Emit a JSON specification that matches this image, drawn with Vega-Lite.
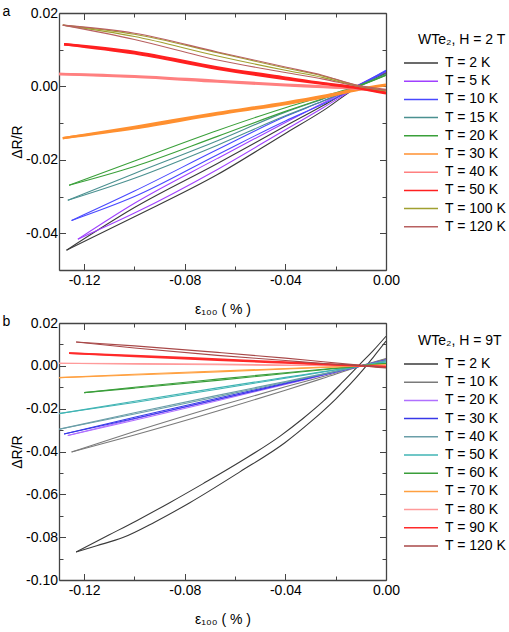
{
  "$schema": "https://vega.github.io/schema/vega-lite/v6.json",
  "background": "white",
  "padding": {"left": 2, "top": 4, "right": 0, "bottom": 0},
  "config": {
    "font": "Liberation Sans",
    "view": {"stroke": null},
    "title": {"font": "Liberation Sans", "fontSize": 14, "fontWeight": "normal", "color": "black"},
    "axis": {
      "grid": false,
      "labelFont": "Liberation Sans",
      "labelFontSize": 14,
      "labelColor": "black",
      "labelFlush": false,
      "titleFont": "Liberation Sans",
      "titleFontSize": 14,
      "titleFontWeight": "normal",
      "titleColor": "black",
      "domainColor": "#444444",
      "domainWidth": 1.3,
      "tickColor": "#444444",
      "tickWidth": 1
    },
    "legend": {
      "orient": "none",
      "symbolType": "stroke",
      "symbolSize": 1156,
      "symbolStrokeWidth": 1.5,
      "labelFont": "Liberation Sans",
      "labelFontSize": 14,
      "labelColor": "black",
      "labelOffset": 6,
      "titleFont": "Liberation Sans",
      "titleFontSize": 14,
      "titleFontWeight": "normal",
      "titleColor": "black",
      "clipHeight": 14,
      "rowPadding": 4.2,
      "titlePadding": 9,
      "padding": 0
    },
    "line": {"interpolate": "monotone"}
  },
  "datasets": {
    "h2": [
      {"T": "2 K", "b": 0, "x": -0.127, "y": -0.0446}, {"T": "2 K", "b": 0, "x": -0.1, "y": -0.0355}, {"T": "2 K", "b": 0, "x": -0.067, "y": -0.024}, {"T": "2 K", "b": 0, "x": -0.04, "y": -0.0128}, {"T": "2 K", "b": 0, "x": -0.025, "y": -0.0066}, {"T": "2 K", "b": 0, "x": -0.011, "y": 0.0}, {"T": "2 K", "b": 0, "x": 0, "y": 0.0035},
      {"T": "2 K", "b": 1, "x": -0.127, "y": -0.0446}, {"T": "2 K", "b": 1, "x": -0.1, "y": -0.033}, {"T": "2 K", "b": 1, "x": -0.067, "y": -0.021}, {"T": "2 K", "b": 1, "x": -0.04, "y": -0.0108}, {"T": "2 K", "b": 1, "x": -0.025, "y": -0.0052}, {"T": "2 K", "b": 1, "x": -0.011, "y": 0.0003}, {"T": "2 K", "b": 1, "x": 0, "y": 0.0038},
      {"T": "5 K", "b": 0, "x": -0.1225, "y": -0.0416}, {"T": "5 K", "b": 0, "x": -0.1, "y": -0.0345}, {"T": "5 K", "b": 0, "x": -0.067, "y": -0.0226}, {"T": "5 K", "b": 0, "x": -0.04, "y": -0.0118}, {"T": "5 K", "b": 0, "x": -0.025, "y": -0.0058}, {"T": "5 K", "b": 0, "x": -0.011, "y": 0.0}, {"T": "5 K", "b": 0, "x": 0, "y": 0.004},
      {"T": "5 K", "b": 1, "x": -0.1225, "y": -0.0416}, {"T": "5 K", "b": 1, "x": -0.1, "y": -0.0318}, {"T": "5 K", "b": 1, "x": -0.067, "y": -0.0196}, {"T": "5 K", "b": 1, "x": -0.04, "y": -0.0098}, {"T": "5 K", "b": 1, "x": -0.025, "y": -0.0045}, {"T": "5 K", "b": 1, "x": -0.011, "y": 0.0004}, {"T": "5 K", "b": 1, "x": 0, "y": 0.0042},
      {"T": "10 K", "b": 0, "x": -0.125, "y": -0.0365}, {"T": "10 K", "b": 0, "x": -0.1, "y": -0.03}, {"T": "10 K", "b": 0, "x": -0.067, "y": -0.0186}, {"T": "10 K", "b": 0, "x": -0.04, "y": -0.0094}, {"T": "10 K", "b": 0, "x": -0.025, "y": -0.0048}, {"T": "10 K", "b": 0, "x": -0.011, "y": 0.0}, {"T": "10 K", "b": 0, "x": 0, "y": 0.0042},
      {"T": "10 K", "b": 1, "x": -0.125, "y": -0.0365}, {"T": "10 K", "b": 1, "x": -0.1, "y": -0.0285}, {"T": "10 K", "b": 1, "x": -0.067, "y": -0.0172}, {"T": "10 K", "b": 1, "x": -0.04, "y": -0.0082}, {"T": "10 K", "b": 1, "x": -0.025, "y": -0.004}, {"T": "10 K", "b": 1, "x": -0.011, "y": 0.0003}, {"T": "10 K", "b": 1, "x": 0, "y": 0.0044},
      {"T": "15 K", "b": 0, "x": -0.1265, "y": -0.031}, {"T": "15 K", "b": 0, "x": -0.1, "y": -0.025}, {"T": "15 K", "b": 0, "x": -0.067, "y": -0.016}, {"T": "15 K", "b": 0, "x": -0.04, "y": -0.008}, {"T": "15 K", "b": 0, "x": -0.025, "y": -0.004}, {"T": "15 K", "b": 0, "x": -0.011, "y": 0.0}, {"T": "15 K", "b": 0, "x": 0, "y": 0.0032},
      {"T": "15 K", "b": 1, "x": -0.1265, "y": -0.031}, {"T": "15 K", "b": 1, "x": -0.1, "y": -0.0237}, {"T": "15 K", "b": 1, "x": -0.067, "y": -0.0148}, {"T": "15 K", "b": 1, "x": -0.04, "y": -0.007}, {"T": "15 K", "b": 1, "x": -0.025, "y": -0.0034}, {"T": "15 K", "b": 1, "x": -0.011, "y": 0.0002}, {"T": "15 K", "b": 1, "x": 0, "y": 0.0034},
      {"T": "20 K", "b": 0, "x": -0.126, "y": -0.0269}, {"T": "20 K", "b": 0, "x": -0.1, "y": -0.0218}, {"T": "20 K", "b": 0, "x": -0.067, "y": -0.0136}, {"T": "20 K", "b": 0, "x": -0.04, "y": -0.0068}, {"T": "20 K", "b": 0, "x": -0.025, "y": -0.0033}, {"T": "20 K", "b": 0, "x": -0.011, "y": 0.0}, {"T": "20 K", "b": 0, "x": 0, "y": 0.003},
      {"T": "20 K", "b": 1, "x": -0.126, "y": -0.0269}, {"T": "20 K", "b": 1, "x": -0.1, "y": -0.0203}, {"T": "20 K", "b": 1, "x": -0.067, "y": -0.012}, {"T": "20 K", "b": 1, "x": -0.04, "y": -0.0058}, {"T": "20 K", "b": 1, "x": -0.025, "y": -0.0027}, {"T": "20 K", "b": 1, "x": -0.011, "y": 0.0002}, {"T": "20 K", "b": 1, "x": 0, "y": 0.0031},
      {"T": "30 K", "b": 0, "x": -0.1285, "y": -0.0141}, {"T": "30 K", "b": 0, "x": -0.1, "y": -0.0114}, {"T": "30 K", "b": 0, "x": -0.067, "y": -0.0076}, {"T": "30 K", "b": 0, "x": -0.04, "y": -0.0048}, {"T": "30 K", "b": 0, "x": -0.025, "y": -0.003}, {"T": "30 K", "b": 0, "x": -0.011, "y": -0.0009}, {"T": "30 K", "b": 0, "x": 0, "y": 0.0003},
      {"T": "30 K", "b": 1, "x": -0.1285, "y": -0.0141}, {"T": "30 K", "b": 1, "x": -0.1, "y": -0.011}, {"T": "30 K", "b": 1, "x": -0.067, "y": -0.0072}, {"T": "30 K", "b": 1, "x": -0.04, "y": -0.0044}, {"T": "30 K", "b": 1, "x": -0.025, "y": -0.0026}, {"T": "30 K", "b": 1, "x": -0.011, "y": -0.0007}, {"T": "30 K", "b": 1, "x": 0, "y": 0.0005},
      {"T": "40 K", "b": 0, "x": -0.13, "y": 0.0034}, {"T": "40 K", "b": 0, "x": -0.1, "y": 0.0026}, {"T": "40 K", "b": 0, "x": -0.067, "y": 0.0013}, {"T": "40 K", "b": 0, "x": -0.04, "y": 0.0003}, {"T": "40 K", "b": 0, "x": -0.025, "y": -0.0002}, {"T": "40 K", "b": 0, "x": -0.011, "y": -0.0007}, {"T": "40 K", "b": 0, "x": 0, "y": -0.0014},
      {"T": "40 K", "b": 1, "x": -0.13, "y": 0.0034}, {"T": "40 K", "b": 1, "x": -0.1, "y": 0.0028}, {"T": "40 K", "b": 1, "x": -0.067, "y": 0.0015}, {"T": "40 K", "b": 1, "x": -0.04, "y": 0.0005}, {"T": "40 K", "b": 1, "x": -0.025, "y": 0.0}, {"T": "40 K", "b": 1, "x": -0.011, "y": -0.0005}, {"T": "40 K", "b": 1, "x": 0, "y": -0.0012},
      {"T": "50 K", "b": 0, "x": -0.128, "y": 0.0115}, {"T": "50 K", "b": 0, "x": -0.1, "y": 0.009}, {"T": "50 K", "b": 0, "x": -0.067, "y": 0.0048}, {"T": "50 K", "b": 0, "x": -0.04, "y": 0.002}, {"T": "50 K", "b": 0, "x": -0.025, "y": 0.0007}, {"T": "50 K", "b": 0, "x": -0.011, "y": -0.0005}, {"T": "50 K", "b": 0, "x": 0, "y": -0.0019},
      {"T": "50 K", "b": 1, "x": -0.128, "y": 0.0115}, {"T": "50 K", "b": 1, "x": -0.1, "y": 0.0094}, {"T": "50 K", "b": 1, "x": -0.067, "y": 0.0052}, {"T": "50 K", "b": 1, "x": -0.04, "y": 0.0024}, {"T": "50 K", "b": 1, "x": -0.025, "y": 0.0009}, {"T": "50 K", "b": 1, "x": -0.011, "y": -0.0003}, {"T": "50 K", "b": 1, "x": 0, "y": -0.0017},
      {"T": "100 K", "b": 0, "x": -0.1285, "y": 0.0167}, {"T": "100 K", "b": 0, "x": -0.1, "y": 0.0136}, {"T": "100 K", "b": 0, "x": -0.067, "y": 0.0083}, {"T": "100 K", "b": 0, "x": -0.04, "y": 0.0044}, {"T": "100 K", "b": 0, "x": -0.025, "y": 0.0024}, {"T": "100 K", "b": 0, "x": -0.011, "y": 0.0}, {"T": "100 K", "b": 0, "x": 0, "y": -0.0012},
      {"T": "100 K", "b": 1, "x": -0.1285, "y": 0.0167}, {"T": "100 K", "b": 1, "x": -0.1, "y": 0.0142}, {"T": "100 K", "b": 1, "x": -0.067, "y": 0.0092}, {"T": "100 K", "b": 1, "x": -0.04, "y": 0.005}, {"T": "100 K", "b": 1, "x": -0.025, "y": 0.0028}, {"T": "100 K", "b": 1, "x": -0.011, "y": 0.0002}, {"T": "100 K", "b": 1, "x": 0, "y": -0.001},
      {"T": "120 K", "b": 0, "x": -0.1285, "y": 0.0167}, {"T": "120 K", "b": 0, "x": -0.1, "y": 0.0128}, {"T": "120 K", "b": 0, "x": -0.067, "y": 0.0072}, {"T": "120 K", "b": 0, "x": -0.04, "y": 0.0038}, {"T": "120 K", "b": 0, "x": -0.025, "y": 0.002}, {"T": "120 K", "b": 0, "x": -0.011, "y": 0.0}, {"T": "120 K", "b": 0, "x": 0, "y": -0.001},
      {"T": "120 K", "b": 1, "x": -0.1285, "y": 0.0167}, {"T": "120 K", "b": 1, "x": -0.1, "y": 0.0145}, {"T": "120 K", "b": 1, "x": -0.067, "y": 0.0094}, {"T": "120 K", "b": 1, "x": -0.04, "y": 0.0053}, {"T": "120 K", "b": 1, "x": -0.025, "y": 0.003}, {"T": "120 K", "b": 1, "x": -0.011, "y": 0.0003}, {"T": "120 K", "b": 1, "x": 0, "y": -0.0008}
    ],
    "h9": [
      {"T": "2 K", "b": 0, "x": -0.1232, "y": -0.0869}, {"T": "2 K", "b": 0, "x": -0.115, "y": -0.084}, {"T": "2 K", "b": 0, "x": -0.1046, "y": -0.0802}, {"T": "2 K", "b": 0, "x": -0.092, "y": -0.073}, {"T": "2 K", "b": 0, "x": -0.078, "y": -0.0639}, {"T": "2 K", "b": 0, "x": -0.0581, "y": -0.0495}, {"T": "2 K", "b": 0, "x": -0.0402, "y": -0.0359}, {"T": "2 K", "b": 0, "x": -0.03, "y": -0.0262}, {"T": "2 K", "b": 0, "x": -0.02, "y": -0.0155}, {"T": "2 K", "b": 0, "x": -0.0096, "y": -0.0025}, {"T": "2 K", "b": 0, "x": -0.005, "y": 0.0041}, {"T": "2 K", "b": 0, "x": 0, "y": 0.0115},
      {"T": "2 K", "b": 1, "x": -0.1232, "y": -0.0869}, {"T": "2 K", "b": 1, "x": -0.11, "y": -0.0789}, {"T": "2 K", "b": 1, "x": -0.0993, "y": -0.0724}, {"T": "2 K", "b": 1, "x": -0.086, "y": -0.0639}, {"T": "2 K", "b": 1, "x": -0.0727, "y": -0.055}, {"T": "2 K", "b": 1, "x": -0.057, "y": -0.0441}, {"T": "2 K", "b": 1, "x": -0.0421, "y": -0.0328}, {"T": "2 K", "b": 1, "x": -0.033, "y": -0.0246}, {"T": "2 K", "b": 1, "x": -0.0248, "y": -0.0164}, {"T": "2 K", "b": 1, "x": -0.017, "y": -0.0073}, {"T": "2 K", "b": 1, "x": -0.0104, "y": 0.0007}, {"T": "2 K", "b": 1, "x": -0.005, "y": 0.0072}, {"T": "2 K", "b": 1, "x": 0, "y": 0.0138},
      {"T": "10 K", "b": 0, "x": -0.125, "y": -0.0402}, {"T": "10 K", "b": 0, "x": -0.1, "y": -0.0323}, {"T": "10 K", "b": 0, "x": -0.067, "y": -0.0211}, {"T": "10 K", "b": 0, "x": -0.04, "y": -0.0114}, {"T": "10 K", "b": 0, "x": -0.025, "y": -0.0058}, {"T": "10 K", "b": 0, "x": -0.0096, "y": 0.0}, {"T": "10 K", "b": 0, "x": 0, "y": 0.0032},
      {"T": "10 K", "b": 1, "x": -0.125, "y": -0.0402}, {"T": "10 K", "b": 1, "x": -0.1, "y": -0.0307}, {"T": "10 K", "b": 1, "x": -0.067, "y": -0.0189}, {"T": "10 K", "b": 1, "x": -0.04, "y": -0.0098}, {"T": "10 K", "b": 1, "x": -0.025, "y": -0.005}, {"T": "10 K", "b": 1, "x": -0.0096, "y": 0.0002}, {"T": "10 K", "b": 1, "x": 0, "y": 0.0034},
      {"T": "20 K", "b": 0, "x": -0.1265, "y": -0.0325}, {"T": "20 K", "b": 0, "x": -0.1, "y": -0.0254}, {"T": "20 K", "b": 0, "x": -0.067, "y": -0.0163}, {"T": "20 K", "b": 0, "x": -0.04, "y": -0.0087}, {"T": "20 K", "b": 0, "x": -0.025, "y": -0.0044}, {"T": "20 K", "b": 0, "x": -0.0096, "y": 0.0}, {"T": "20 K", "b": 0, "x": 0, "y": 0.0026},
      {"T": "20 K", "b": 1, "x": -0.1265, "y": -0.0325}, {"T": "20 K", "b": 1, "x": -0.1, "y": -0.0248}, {"T": "20 K", "b": 1, "x": -0.067, "y": -0.0157}, {"T": "20 K", "b": 1, "x": -0.04, "y": -0.0083}, {"T": "20 K", "b": 1, "x": -0.025, "y": -0.0042}, {"T": "20 K", "b": 1, "x": -0.0096, "y": 0.0001}, {"T": "20 K", "b": 1, "x": 0, "y": 0.0027},
      {"T": "30 K", "b": 0, "x": -0.128, "y": -0.0318}, {"T": "30 K", "b": 0, "x": -0.1, "y": -0.0246}, {"T": "30 K", "b": 0, "x": -0.067, "y": -0.0157}, {"T": "30 K", "b": 0, "x": -0.04, "y": -0.0084}, {"T": "30 K", "b": 0, "x": -0.025, "y": -0.0042}, {"T": "30 K", "b": 0, "x": -0.0096, "y": 0.0}, {"T": "30 K", "b": 0, "x": 0, "y": 0.0026},
      {"T": "30 K", "b": 1, "x": -0.128, "y": -0.0318}, {"T": "30 K", "b": 1, "x": -0.1, "y": -0.024}, {"T": "30 K", "b": 1, "x": -0.067, "y": -0.0151}, {"T": "30 K", "b": 1, "x": -0.04, "y": -0.008}, {"T": "30 K", "b": 1, "x": -0.025, "y": -0.004}, {"T": "30 K", "b": 1, "x": -0.0096, "y": 0.0001}, {"T": "30 K", "b": 1, "x": 0, "y": 0.0027},
      {"T": "40 K", "b": 0, "x": -0.13, "y": -0.0296}, {"T": "40 K", "b": 0, "x": -0.1, "y": -0.0225}, {"T": "40 K", "b": 0, "x": -0.067, "y": -0.0144}, {"T": "40 K", "b": 0, "x": -0.04, "y": -0.0077}, {"T": "40 K", "b": 0, "x": -0.025, "y": -0.0039}, {"T": "40 K", "b": 0, "x": -0.0096, "y": 0.0}, {"T": "40 K", "b": 0, "x": 0, "y": 0.0024},
      {"T": "40 K", "b": 1, "x": -0.13, "y": -0.0296}, {"T": "40 K", "b": 1, "x": -0.1, "y": -0.0219}, {"T": "40 K", "b": 1, "x": -0.067, "y": -0.0138}, {"T": "40 K", "b": 1, "x": -0.04, "y": -0.0073}, {"T": "40 K", "b": 1, "x": -0.025, "y": -0.0037}, {"T": "40 K", "b": 1, "x": -0.0096, "y": 0.0001}, {"T": "40 K", "b": 1, "x": 0, "y": 0.0025},
      {"T": "50 K", "b": 0, "x": -0.13, "y": -0.0223}, {"T": "50 K", "b": 0, "x": -0.1, "y": -0.0171}, {"T": "50 K", "b": 0, "x": -0.067, "y": -0.0109}, {"T": "50 K", "b": 0, "x": -0.04, "y": -0.0058}, {"T": "50 K", "b": 0, "x": -0.025, "y": -0.0029}, {"T": "50 K", "b": 0, "x": -0.0096, "y": 0.0}, {"T": "50 K", "b": 0, "x": 0, "y": 0.0018},
      {"T": "50 K", "b": 1, "x": -0.13, "y": -0.0223}, {"T": "50 K", "b": 1, "x": -0.1, "y": -0.0165}, {"T": "50 K", "b": 1, "x": -0.067, "y": -0.0103}, {"T": "50 K", "b": 1, "x": -0.04, "y": -0.0054}, {"T": "50 K", "b": 1, "x": -0.025, "y": -0.0027}, {"T": "50 K", "b": 1, "x": -0.0096, "y": 0.0001}, {"T": "50 K", "b": 1, "x": 0, "y": 0.0019},
      {"T": "60 K", "b": 0, "x": -0.12, "y": -0.0125}, {"T": "60 K", "b": 0, "x": -0.1, "y": -0.0104}, {"T": "60 K", "b": 0, "x": -0.067, "y": -0.0068}, {"T": "60 K", "b": 0, "x": -0.04, "y": -0.0036}, {"T": "60 K", "b": 0, "x": -0.025, "y": -0.0018}, {"T": "60 K", "b": 0, "x": -0.0096, "y": 0.0}, {"T": "60 K", "b": 0, "x": 0, "y": 0.0011},
      {"T": "60 K", "b": 1, "x": -0.12, "y": -0.0125}, {"T": "60 K", "b": 1, "x": -0.1, "y": -0.01}, {"T": "60 K", "b": 1, "x": -0.067, "y": -0.0062}, {"T": "60 K", "b": 1, "x": -0.04, "y": -0.0032}, {"T": "60 K", "b": 1, "x": -0.025, "y": -0.0016}, {"T": "60 K", "b": 1, "x": -0.0096, "y": 0.0001}, {"T": "60 K", "b": 1, "x": 0, "y": 0.0012},
      {"T": "70 K", "b": 0, "x": -0.13, "y": -0.0055}, {"T": "70 K", "b": 0, "x": -0.1, "y": -0.0043}, {"T": "70 K", "b": 0, "x": -0.067, "y": -0.0028}, {"T": "70 K", "b": 0, "x": -0.04, "y": -0.0015}, {"T": "70 K", "b": 0, "x": -0.025, "y": -0.0008}, {"T": "70 K", "b": 0, "x": -0.0096, "y": 0.0}, {"T": "70 K", "b": 0, "x": 0, "y": 0.0004},
      {"T": "70 K", "b": 1, "x": -0.13, "y": -0.0055}, {"T": "70 K", "b": 1, "x": -0.1, "y": -0.0039}, {"T": "70 K", "b": 1, "x": -0.067, "y": -0.0024}, {"T": "70 K", "b": 1, "x": -0.04, "y": -0.0013}, {"T": "70 K", "b": 1, "x": -0.025, "y": -0.0006}, {"T": "70 K", "b": 1, "x": -0.0096, "y": 0.0001}, {"T": "70 K", "b": 1, "x": 0, "y": 0.0005},
      {"T": "80 K", "b": 0, "x": -0.13, "y": 0.0012}, {"T": "80 K", "b": 0, "x": -0.1, "y": 0.0008}, {"T": "80 K", "b": 0, "x": -0.067, "y": 0.0005}, {"T": "80 K", "b": 0, "x": -0.04, "y": 0.0002}, {"T": "80 K", "b": 0, "x": -0.025, "y": 0.0001}, {"T": "80 K", "b": 0, "x": -0.0096, "y": 0.0}, {"T": "80 K", "b": 0, "x": 0, "y": -0.0001},
      {"T": "80 K", "b": 1, "x": -0.13, "y": 0.0012}, {"T": "80 K", "b": 1, "x": -0.1, "y": 0.0011}, {"T": "80 K", "b": 1, "x": -0.067, "y": 0.0008}, {"T": "80 K", "b": 1, "x": -0.04, "y": 0.0004}, {"T": "80 K", "b": 1, "x": -0.025, "y": 0.0002}, {"T": "80 K", "b": 1, "x": -0.0096, "y": 0.0001}, {"T": "80 K", "b": 1, "x": 0, "y": 0.0},
      {"T": "90 K", "b": 0, "x": -0.126, "y": 0.0059}, {"T": "90 K", "b": 0, "x": -0.1, "y": 0.0044}, {"T": "90 K", "b": 0, "x": -0.067, "y": 0.0027}, {"T": "90 K", "b": 0, "x": -0.04, "y": 0.0014}, {"T": "90 K", "b": 0, "x": -0.025, "y": 0.0007}, {"T": "90 K", "b": 0, "x": -0.0096, "y": 0.0}, {"T": "90 K", "b": 0, "x": 0, "y": -0.0005},
      {"T": "90 K", "b": 1, "x": -0.126, "y": 0.0059}, {"T": "90 K", "b": 1, "x": -0.1, "y": 0.0048}, {"T": "90 K", "b": 1, "x": -0.067, "y": 0.0031}, {"T": "90 K", "b": 1, "x": -0.04, "y": 0.0017}, {"T": "90 K", "b": 1, "x": -0.025, "y": 0.0009}, {"T": "90 K", "b": 1, "x": -0.0096, "y": 0.0001}, {"T": "90 K", "b": 1, "x": 0, "y": -0.0004},
      {"T": "120 K", "b": 0, "x": -0.1232, "y": 0.0111}, {"T": "120 K", "b": 0, "x": -0.1, "y": 0.0083}, {"T": "120 K", "b": 0, "x": -0.067, "y": 0.0049}, {"T": "120 K", "b": 0, "x": -0.04, "y": 0.0025}, {"T": "120 K", "b": 0, "x": -0.025, "y": 0.0011}, {"T": "120 K", "b": 0, "x": -0.0096, "y": 0.0}, {"T": "120 K", "b": 0, "x": 0, "y": -0.001},
      {"T": "120 K", "b": 1, "x": -0.1232, "y": 0.0111}, {"T": "120 K", "b": 1, "x": -0.1, "y": 0.0093}, {"T": "120 K", "b": 1, "x": -0.067, "y": 0.0063}, {"T": "120 K", "b": 1, "x": -0.04, "y": 0.0036}, {"T": "120 K", "b": 1, "x": -0.025, "y": 0.0019}, {"T": "120 K", "b": 1, "x": -0.0096, "y": 0.0002}, {"T": "120 K", "b": 1, "x": 0, "y": -0.0008}
    ]
  },
  "resolve": {
    "scale": {"x": "independent", "y": "independent", "color": "independent"},
    "legend": {"color": "independent"}
  },
  "spacing": -3,
  "vconcat": [
    {
      "title": {"text": "a", "anchor": "start", "frame": "bounds", "offset": -12.5, "dx": -8},
      "width": 327,
      "height": 257,
      "data": {"name": "h2"},
      "resolve": {"axis": {"x": "independent", "y": "independent"}},
      "layer": [
        {
          "mark": {"type": "line", "clip": true},
          "encoding": {
            "x": {
              "field": "x", "type": "quantitative",
              "scale": {"domain": [-0.13, 0], "nice": false, "zero": false},
              "axis": {
                "orient": "bottom",
                "values": [-0.12, -0.1, -0.08, -0.06, -0.04, -0.02, 0],
                "labelExpr": "abs(round(datum.value*100)) % 4 == 0 ? replace(format(datum.value, '.2f'), '\u2212', '-') : ''",
                "tickSize": {"condition": {"test": "abs(round(datum.value*100)) % 4 == 0", "value": -6.5}, "value": -4},
                "labelPadding": 10,
                "title": "ε₁₀₀ ( % )",
                "titlePadding": 15
              }
            },
            "y": {
              "field": "y", "type": "quantitative",
              "scale": {"domain": [-0.05, 0.02], "nice": false, "zero": false},
              "axis": {
                "orient": "left",
                "values": [0.02, 0.01, 0, -0.01, -0.02, -0.03, -0.04, -0.05],
                "labelExpr": "round(datum.value*100) % 2 == 0 ? replace(format(datum.value, '.2f'), '\u2212', '-') : ''",
                "tickSize": {"condition": {"test": "round(datum.value*100) % 2 == 0", "value": -6.5}, "value": -4},
                "labelPadding": 8,
                "title": "ΔR/R",
                "titlePadding": 1
              }
            },
            "color": {
              "field": "T", "type": "nominal",
              "scale": {
                "domain": ["2 K", "5 K", "10 K", "15 K", "20 K", "30 K", "40 K", "50 K", "100 K", "120 K"],
                "range": ["#3a3a3a", "#a040ff", "#4848ff", "#4a9090", "#3aa03a", "#ff9030", "#ff8080", "#ff2020", "#a0a030", "#b86060"]
              },
              "legend": {
                "title": "WTe₂, H = 2 T",
                "labelExpr": "'T = ' + datum.label",
                "legendX": 344,
                "legendY": 20,
                "encoding": {"title": {"dx": {"value": 15}}}
              }
            },
            "detail": {"field": "b"},
            "strokeWidth": {"condition": {"test": "indexof(['30 K', '40 K', '50 K'], datum.T) >= 0", "value": 2.4}, "value": 1.1}
          }
        },
        {
          "mark": {"type": "line", "opacity": 0},
          "encoding": {
            "x": {
              "field": "x", "type": "quantitative",
              "axis": {
                "orient": "top",
                "values": [-0.12, -0.1, -0.08, -0.06, -0.04, -0.02, 0],
                "labels": false,
                "title": null,
                "tickSize": {"condition": {"test": "abs(round(datum.value*100)) % 4 == 0", "value": -6.5}, "value": -4}
              }
            },
            "y": {
              "field": "y", "type": "quantitative",
              "axis": {
                "orient": "right",
                "values": [0.02, 0.01, 0, -0.01, -0.02, -0.03, -0.04, -0.05],
                "labels": false,
                "title": null,
                "tickSize": {"condition": {"test": "round(datum.value*100) % 2 == 0", "value": -6.5}, "value": -4}
              }
            },
            "detail": {"field": "T"}
          }
        }
      ]
    },
    {
      "title": {"text": "b", "anchor": "start", "frame": "bounds", "offset": -12.5, "dx": -8},
      "width": 327,
      "height": 257,
      "data": {"name": "h9"},
      "resolve": {"axis": {"x": "independent", "y": "independent"}},
      "layer": [
        {
          "mark": {"type": "line", "clip": true},
          "encoding": {
            "x": {
              "field": "x", "type": "quantitative",
              "scale": {"domain": [-0.13, 0], "nice": false, "zero": false},
              "axis": {
                "orient": "bottom",
                "values": [-0.12, -0.1, -0.08, -0.06, -0.04, -0.02, 0],
                "labelExpr": "abs(round(datum.value*100)) % 4 == 0 ? replace(format(datum.value, '.2f'), '\u2212', '-') : ''",
                "tickSize": {"condition": {"test": "abs(round(datum.value*100)) % 4 == 0", "value": -6.5}, "value": -4},
                "labelPadding": 10,
                "title": "ε₁₀₀ ( % )",
                "titlePadding": 15
              }
            },
            "y": {
              "field": "y", "type": "quantitative",
              "scale": {"domain": [-0.1, 0.02], "nice": false, "zero": false},
              "axis": {
                "orient": "left",
                "values": [0.02, 0.01, 0, -0.01, -0.02, -0.03, -0.04, -0.05, -0.06, -0.07, -0.08, -0.09, -0.1],
                "labelExpr": "round(datum.value*100) % 2 == 0 ? replace(format(datum.value, '.2f'), '\u2212', '-') : ''",
                "tickSize": {"condition": {"test": "round(datum.value*100) % 2 == 0", "value": -6.5}, "value": -4},
                "labelPadding": 8,
                "title": "ΔR/R",
                "titlePadding": 1
              }
            },
            "color": {
              "field": "T", "type": "nominal",
              "scale": {
                "domain": ["2 K", "10 K", "20 K", "30 K", "40 K", "50 K", "60 K", "70 K", "80 K", "90 K", "120 K"],
                "range": ["#3a3a3a", "#7a7a7a", "#b070ff", "#3838e8", "#6a9ea8", "#40b4b4", "#3a9e3a", "#ffa040", "#ff9a9a", "#ff2a2a", "#a84848"]
              },
              "legend": {
                "title": "WTe₂, H = 9T",
                "labelExpr": "'T = ' + datum.label",
                "legendX": 344,
                "legendY": 11,
                "encoding": {"title": {"dx": {"value": 15}}}
              }
            },
            "detail": {"field": "b"},
            "strokeWidth": {"condition": {"test": "datum.T == '90 K'", "value": 1.8}, "value": 1.1}
          }
        },
        {
          "mark": {"type": "line", "opacity": 0},
          "encoding": {
            "x": {
              "field": "x", "type": "quantitative",
              "axis": {
                "orient": "top",
                "values": [-0.12, -0.1, -0.08, -0.06, -0.04, -0.02, 0],
                "labels": false,
                "title": null,
                "tickSize": {"condition": {"test": "abs(round(datum.value*100)) % 4 == 0", "value": -6.5}, "value": -4}
              }
            },
            "y": {
              "field": "y", "type": "quantitative",
              "axis": {
                "orient": "right",
                "values": [0.02, 0.01, 0, -0.01, -0.02, -0.03, -0.04, -0.05, -0.06, -0.07, -0.08, -0.09, -0.1],
                "labels": false,
                "title": null,
                "tickSize": {"condition": {"test": "round(datum.value*100) % 2 == 0", "value": -6.5}, "value": -4}
              }
            },
            "detail": {"field": "T"}
          }
        }
      ]
    }
  ]
}
